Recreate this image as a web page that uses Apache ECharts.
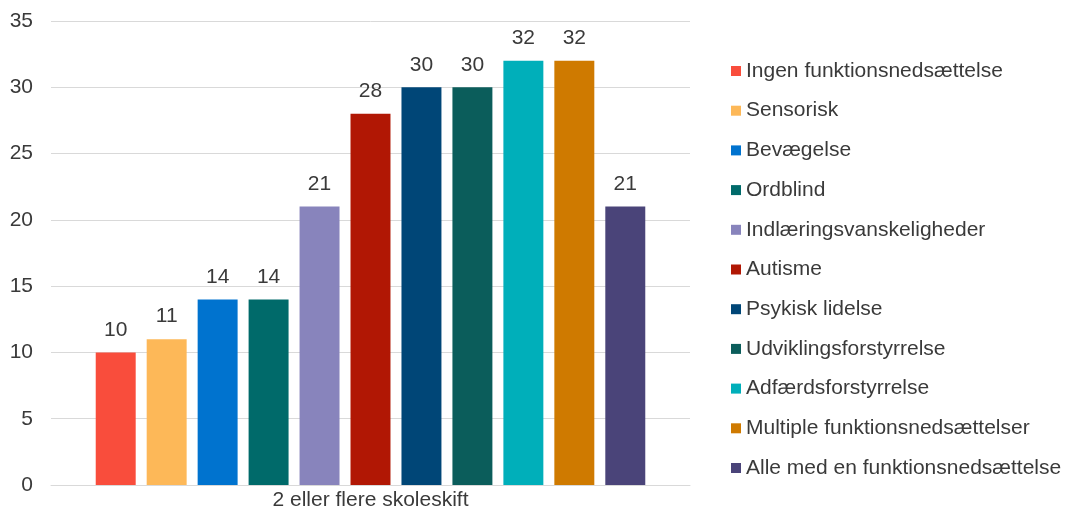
<!DOCTYPE html>
<html>
<head>
<meta charset="utf-8">
<script src="https://cdn.jsdelivr.net/npm/echarts@6/dist/echarts.min.js"></script>
<style>
  html, body { margin: 0; padding: 0; background: #ffffff; }
  #chart { width: 1070px; height: 514px; }
</style>
</head>
<body>
<div id="chart"></div>
<script>
// Share of pupils with 2 or more school changes, by type of disability
const categories = ['2 eller flere skoleskift'];
const seriesNames = [
  'Ingen funktionsnedsættelse',
  'Sensorisk',
  'Bevægelse',
  'Ordblind',
  'Indlæringsvanskeligheder',
  'Autisme',
  'Psykisk lidelse',
  'Udviklingsforstyrrelse',
  'Adfærdsforstyrrelse',
  'Multiple funktionsnedsættelser',
  'Alle med en funktionsnedsættelse'
];
const seriesValues = [10, 11, 14, 14, 21, 28, 30, 30, 32, 32, 21];
const seriesColors = [
  '#F94D3C', '#FDB858', '#0073CF', '#006A6A', '#8884BC', '#B11704',
  '#004677', '#0B5D5B', '#00AFBA', '#CF7A00', '#4A4479'
];
const yTicks = { min: 0, max: 35, interval: 5 };

const textColor = '#3A3A3A';
const font = 'Liberation Sans, Arial, sans-serif';
const fontSize = 21;

const chart = echarts.init(document.getElementById('chart'), null, { renderer: 'canvas' });

const series = seriesNames.map((name, i) => ({
  name: name,
  type: 'bar',
  data: [seriesValues[i]],
  barCategoryGap: '14%',
  barGap: '27.5%',
  itemStyle: { color: seriesColors[i] },
  label: {
    show: true,
    position: 'top',
    distance: 12,
    color: textColor,
    fontFamily: font,
    fontSize: fontSize
  },
  emphasis: { disabled: true }
}));

chart.setOption({
  animation: false,
  backgroundColor: '#ffffff',
  grid: { left: 51, right: 380, top: 21, bottom: 29 },
  xAxis: {
    type: 'category',
    data: categories,
    axisLine: { lineStyle: { color: '#D9D9D9', width: 1 } },
    axisTick: { show: false },
    axisLabel: { color: textColor, fontFamily: font, fontSize: fontSize, margin: 5 }
  },
  yAxis: {
    type: 'value',
    min: yTicks.min,
    max: yTicks.max,
    interval: yTicks.interval,
    axisLine: { show: false },
    axisTick: { show: false },
    axisLabel: { color: textColor, fontFamily: font, fontSize: fontSize, margin: 18 },
    splitLine: { lineStyle: { color: '#D9D9D9', width: 1 } }
  },
  legend: {
    orient: 'vertical',
    left: 731,
    top: 59,
    padding: 0,
    icon: 'rect',
    itemWidth: 10,
    itemHeight: 10,
    itemGap: 15.7,
    data: seriesNames,
    textStyle: { color: textColor, fontFamily: font, fontSize: fontSize, lineHeight: 24 },
    selectedMode: false
  },
  series: series
});
</script>
</body>
</html>
